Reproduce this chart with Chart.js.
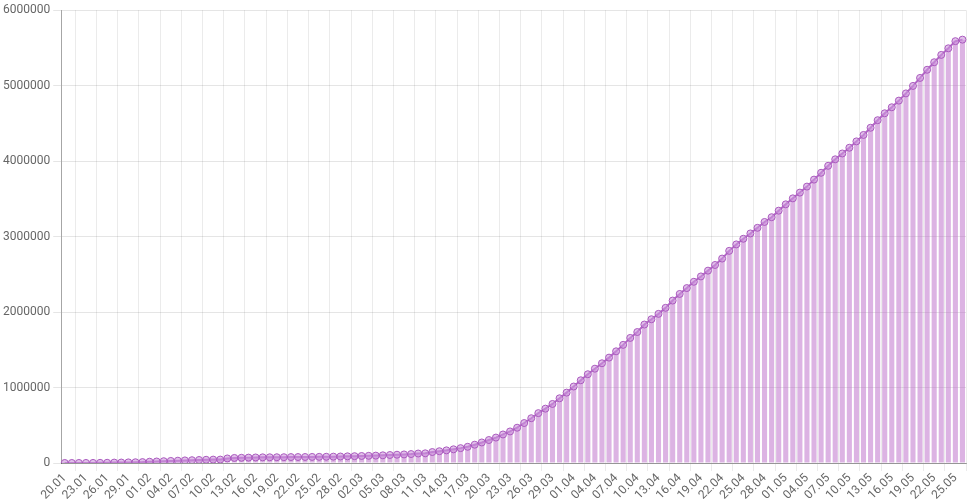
<!DOCTYPE html>
<html>
<head>
<meta charset="utf-8">
<script src="https://cdn.jsdelivr.net/npm/chart.js@4/dist/chart.umd.min.js"></script>
<style>
html,body{margin:0;padding:0;background:#fff;}
#wrap{width:972px;height:500px;position:relative;}
</style>
</head>
<body>
<div id="wrap"><canvas id="c"></canvas></div>
<script>
const labels = [
'20.01','21.01','22.01','23.01','24.01','25.01','26.01','27.01','28.01','29.01','30.01','31.01',
'01.02','02.02','03.02','04.02','05.02','06.02','07.02','08.02','09.02','10.02','11.02','12.02','13.02','14.02','15.02','16.02','17.02','18.02','19.02','20.02','21.02','22.02','23.02','24.02','25.02','26.02','27.02','28.02','29.02',
'01.03','02.03','03.03','04.03','05.03','06.03','07.03','08.03','09.03','10.03','11.03','12.03','13.03','14.03','15.03','16.03','17.03','18.03','19.03','20.03','21.03','22.03','23.03','24.03','25.03','26.03','27.03','28.03','29.03','30.03','31.03',
'01.04','02.04','03.04','04.04','05.04','06.04','07.04','08.04','09.04','10.04','11.04','12.04','13.04','14.04','15.04','16.04','17.04','18.04','19.04','20.04','21.04','22.04','23.04','24.04','25.04','26.04','27.04','28.04','29.04','30.04',
'01.05','02.05','03.05','04.05','05.05','06.05','07.05','08.05','09.05','10.05','11.05','12.05','13.05','14.05','15.05','16.05','17.05','18.05','19.05','20.05','21.05','22.05','23.05','24.05','25.05','26.05'
];
const cases = [
330,555,654,941,1434,2118,2927,5578,6166,8234,9927,12038,
16787,19881,23892,27635,30794,34391,37120,40150,42762,44802,45221,60368,66885,69030,71224,73258,75136,75639,76197,76819,78572,78958,79561,80406,81388,82746,84112,86011,88369,
90306,92840,95120,97886,101801,105847,109821,113590,118620,125875,128352,145205,156101,167454,181574,197102,214821,242570,272208,304507,336953,378235,418045,467653,529591,593291,660706,720117,782365,857487,932605,
1013466,1095917,1176060,1249754,1321481,1396476,1479804,1565278,1657526,1735650,1834721,1904838,1976191,2056054,2152437,2240191,2317758,2401378,2472259,2549123,2624074,2708885,2811193,2896746,2971475,3041764,3116398,3193886,3256853,3343777,
3427584,3506729,3583055,3662691,3755341,3845718,3938064,4024009,4101699,4177502,4261747,4347018,4442163,4542347,4634068,4713620,4801943,4897492,4996472,5102424,5210817,5310362,5407613,5495061,5589626,5610000
];
const yTicks = [0,1000000,2000000,3000000,4000000,5000000,6000000];
const labelEvery = 3;

Chart.defaults.font.family = 'Roboto, "Liberation Sans", Arial, sans-serif';
Chart.defaults.font.size = 12;
Chart.defaults.color = '#666';

new Chart(document.getElementById('c'), {
  type: 'bar',
  data: {
    labels: labels,
    datasets: [
      {
        type: 'line',
        data: cases,
        order: 0,
        borderColor: 'rgba(178,102,198,1)',
        borderWidth: 2,
        pointRadius: 3.5,
        pointBorderWidth: 1,
        pointBackgroundColor: 'rgba(205,150,220,0.6)',
        pointBorderColor: 'rgba(170,90,190,1)',
        fill: false,
        tension: 0
      },
      {
        type: 'bar',
        data: cases,
        order: 1,
        backgroundColor: 'rgba(186,104,200,0.5)',
        borderWidth: 0
      }
    ]
  },
  options: {
    responsive: true,
    maintainAspectRatio: false,
    animation: false,
    layout: { padding: { top: 4, right: 6, left: 0, bottom: 0 } },
    plugins: { legend: { display: false }, tooltip: { enabled: false } },
    scales: {
      x: {
        offset: true,
        grid: { color: 'rgba(0,0,0,0.08)', offset: true },
        border: { color: 'rgba(0,0,0,0.35)' },
        afterFit: function(axis) { axis.height = 37; },
        ticks: {
          autoSkip: false,
          maxRotation: 45,
          minRotation: 45,
          padding: 0,
          callback: function(v, i) { return i % labelEvery === 0 ? labels[i] : null; }
        }
      },
      y: {
        min: yTicks[0],
        max: yTicks[yTicks.length - 1],
        grid: { color: 'rgba(0,0,0,0.1)' },
        border: { color: 'rgba(0,0,0,0.35)' },
        afterBuildTicks: function(axis) { axis.ticks = yTicks.map(v => ({ value: v })); },
        ticks: { callback: function(v) { return String(v); } }
      }
    }
  }
});
</script>
</body>
</html>
